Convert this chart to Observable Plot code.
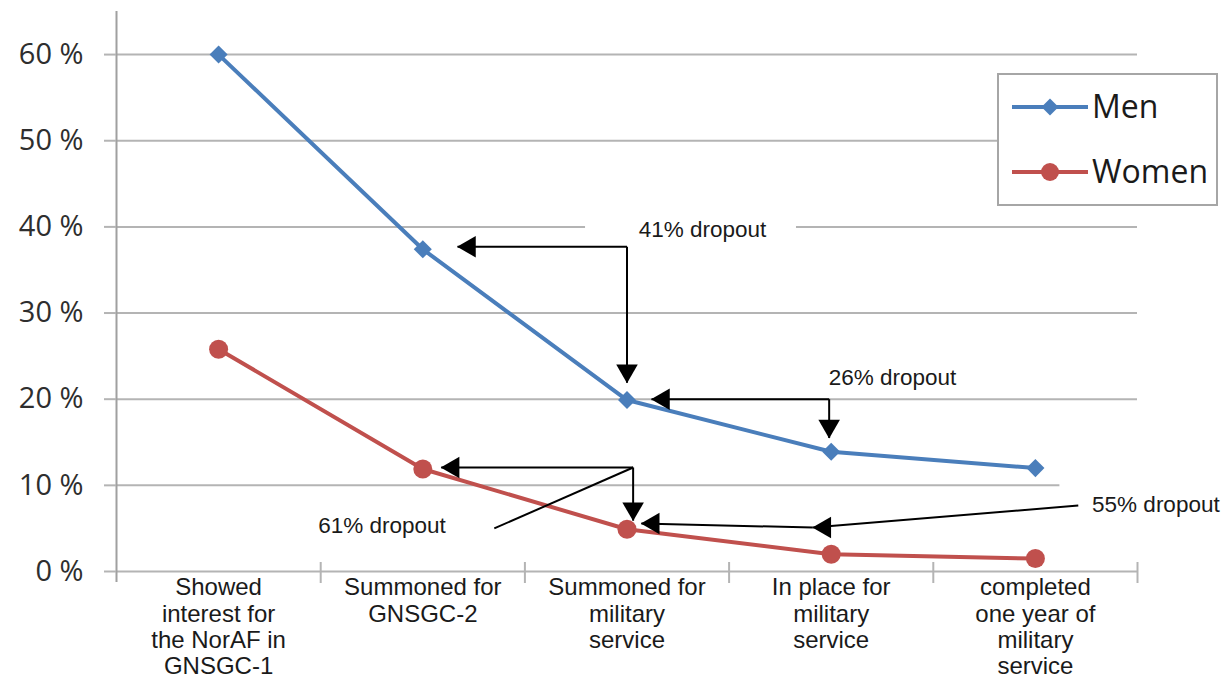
<!DOCTYPE html>
<html>
<head>
<meta charset="utf-8">
<script src="https://cdn.jsdelivr.net/npm/d3@7"></script>
<script src="https://cdn.jsdelivr.net/npm/@observablehq/plot@0.6"></script>
<style>
  html, body { margin: 0; padding: 0; background: #fff; }
  #wrap { position: relative; width: 1223px; height: 678px; }
  #legend { position: absolute; left: 997px; top: 73px; }
</style>
</head>
<body>
<div id="wrap"></div>
<script>
// ---- data ----
const categories = [
  "Showed\ninterest for\nthe NorAF in\nGNSGC-1",
  "Summoned for\nGNSGC-2",
  "Summoned for\nmilitary\nservice",
  "In place for\nmilitary\nservice",
  "completed\none year of\nmilitary\nservice"
];
const men = [60, 37.4, 19.9, 13.9, 12.0];
const women = [25.8, 11.9, 4.9, 2.0, 1.5];
const yTicks = [0, 10, 20, 30, 40, 50, 60];
const seriesNames = ["Men", "Women"];
const seriesColors = ["#4a7ebb", "#c0504d"];

// annotation texts (position in data coordinates: category index, percent)
const dropoutText = ["41% dropout", "26% dropout", "61% dropout", "55% dropout"];
const dropoutX = [2.37, 3.30, 0.80, 4.59];
const dropoutY = [39.7, 22.5, 5.3, 7.7];
// annotation connector segments
const segX1 = [2.0, 2.0, 2.99, 2.99, 2.03, 2.03, 1.35, 4.21, 2.91];
const segY1 = [37.7, 37.7, 20.0, 20.0, 12.07, 12.07, 5.0, 7.66, 5.1];
const segX2 = [1.17, 2.0, 2.12, 2.99, 1.09, 2.03, 2.03, 2.91, 2.07];
const segY2 = [37.7, 21.9, 20.0, 15.5, 12.07, 5.9, 12.07, 5.1, 5.57];
// arrow heads
const headX = [1.17, 2.0, 2.12, 2.99, 1.09, 2.03, 2.91, 2.07];
const headY = [37.7, 21.9, 20.0, 15.5, 12.07, 5.9, 5.1, 5.57];
const headDir = ["left", "down", "left", "down", "left", "down", "left", "left"];

// ---- tables built from the arrays ----
const rows = categories.map((c, i) => ({i, label: c, men: men[i], women: women[i]}));
const labels = dropoutText.map((t, i) => ({t, x: dropoutX[i], y: dropoutY[i]}));
const segs = segX1.map((_, i) => ({x1: segX1[i], y1: segY1[i], x2: segX2[i], y2: segY2[i]}));
const heads = headX.map((_, i) => ({x: headX[i], y: headY[i], dir: headDir[i]}));
const boundaries = d3.range(categories.length + 1).map(k => k - 0.5);

const grid = "#b4b4b4";
const txtFont = "Liberation Sans, Arial, sans-serif";

const chart = Plot.plot({
  width: 1223,
  height: 678,
  marginLeft: 116,
  marginRight: 86,
  marginTop: 11,
  marginBottom: 107,
  style: {background: "#fff", overflow: "visible"},
  x: {type: "linear", domain: [-0.5, categories.length - 0.5], axis: null},
  y: {domain: [0, 65], axis: null},
  marks: [
    // horizontal gridlines
    Plot.ruleY(yTicks.filter(d => d > 0), {stroke: grid, strokeWidth: 2}),
    // white patches where the original gridlines were cut
    Plot.rect([0], {x1: 1.797, x2: 2.83, y1: 39, y2: 41, fill: "white"}),
    Plot.rect([0], {x1: 4.12, x2: 4.6, y1: 9, y2: 11, fill: "white"}),
    // x axis line
    Plot.ruleY([0], {stroke: grid, strokeWidth: 2}),
    // category boundary ticks
    Plot.ruleX(boundaries.slice(1), {y1: 0, y2: 0, insetTop: -9, insetBottom: -12, stroke: grid, strokeWidth: 2}),
    // y axis line
    Plot.ruleX([-0.5], {stroke: "#a0a0a0", strokeWidth: 2, insetBottom: -11}),
    // y axis ticks and labels
    Plot.axisY({
      ticks: yTicks, tickSize: 12, tickPadding: 21,
      tickFormat: d => d + " %",
      stroke: grid, fill: "#2e2e2e",
      fontSize: 29, fontFamily: "Open Sans, sans-serif",
      strokeWidth: 2
    }),
    // x category labels
    Plot.text(rows, {
      x: "i", y: 0, text: "label", lineAnchor: "top", dy: 5,
      fontSize: 24, lineHeight: 1.1, fontFamily: txtFont, fill: "#1a1a1a",
      ariaLabel: "xlabels"
    }),
    // series
    Plot.line(rows, {x: "i", y: "men", stroke: seriesColors[0], strokeWidth: 4}),
    Plot.dot(rows, {x: "i", y: "men", symbol: "square", rotate: 45, r: 7.2, fill: seriesColors[0]}),
    Plot.line(rows, {x: "i", y: "women", stroke: seriesColors[1], strokeWidth: 4}),
    Plot.dot(rows, {x: "i", y: "women", r: 9.5, fill: seriesColors[1]}),
    // annotations
    Plot.link(segs, {x1: "x1", y1: "y1", x2: "x2", y2: "y2", stroke: "#000", strokeWidth: 2}),
    Plot.dot(heads.filter(d => d.dir === "left"), {x: "x", y: "y", symbol: "triangle", rotate: 270, r: 8, dx: 12, fill: "#000"}),
    Plot.dot(heads.filter(d => d.dir === "down"), {x: "x", y: "y", symbol: "triangle", rotate: 180, r: 8, dy: -12, fill: "#000"}),
    Plot.text(labels, {x: "x", y: "y", text: "t", fontSize: 22.5, fontFamily: txtFont, fill: "#1a1a1a"})
  ]
});

document.getElementById("wrap").appendChild(chart);

// condensed look of the category labels
d3.select(chart).selectAll('g[aria-label="xlabels"] text').each(function() {
  const t = this.getAttribute("transform") || "";
  this.setAttribute("transform", t + " scale(0.82,1)");
});

// legend
const lg = d3.select("#wrap").append("svg")
  .attr("id", "legend").attr("width", 221).attr("height", 133);
lg.append("rect").attr("x", 1).attr("y", 1).attr("width", 219).attr("height", 131)
  .attr("fill", "#fff").attr("stroke", "#a6a6a6").attr("stroke-width", 2);
seriesNames.forEach((name, k) => {
  const cy = k === 0 ? 34 : 99;
  lg.append("line").attr("x1", 15).attr("x2", 91).attr("y1", cy).attr("y2", cy)
    .attr("stroke", seriesColors[k]).attr("stroke-width", 4);
  if (k === 0) {
    lg.append("rect").attr("x", -6).attr("y", -6).attr("width", 12).attr("height", 12)
      .attr("fill", seriesColors[k]).attr("transform", `translate(53,${cy}) rotate(45)`);
  } else {
    lg.append("circle").attr("cx", 53).attr("cy", cy).attr("r", 9).attr("fill", seriesColors[k]);
  }
  lg.append("text").attr("x", 95).attr("y", cy).attr("dy", "0.35em")
    .attr("font-family", "Open Sans, sans-serif").attr("font-size", 32)
    .attr("fill", "#1a1a1a").text(name);
});
</script>
</body>
</html>
